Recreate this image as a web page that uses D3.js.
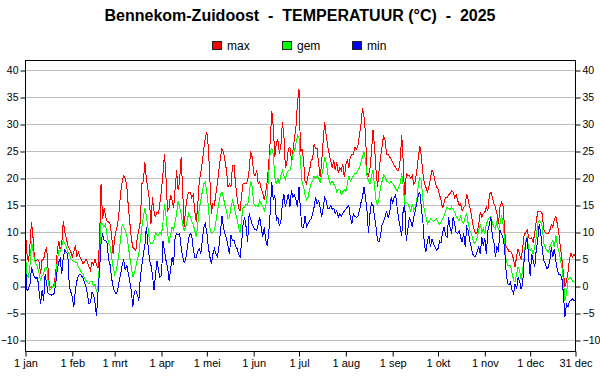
<!DOCTYPE html>
<html>
<head>
<meta charset="utf-8">
<script src="https://cdn.jsdelivr.net/npm/d3@7"></script>
<style>
  body { margin: 0; background: #fff; }
  svg { display: block; font-family: Arial, "Liberation Sans", sans-serif; }
</style>
</head>
<body>
<svg id="chart" width="600" height="390"></svg>
<script>
// daily values 2025, 1 jan .. 31 dec (365 days)
var maxTemp = [
  10, 6, 4.5, 8, 12, 9, 5, 4.8, 5, 4.5, 2.3, 5, 5, 6.5, 7.3, 3, -0.4, 0, 0, 0.5, 2.5, 6.5, 8.5, 6.7, 8, 12.2, 10, 9, 7.6, 7, 6.4, 5.5, 6.5, 7.6, 5.5, 6.4, 5.5, 5, 4.2, 4.5, 5.1, 4.5, 3.6,
  3, 4.5, 4, 5, 4, 3.5, 8.5, 19, 12.5, 14.5, 13, 12, 12, 11.5, 9.5, 6, 9, 10.5, 11.5, 14, 17.5, 19.5, 20.5, 20, 18.7, 15, 12, 9, 7.3, 7, 6.7, 9, 10.5, 12, 19, 19.5, 23, 20, 18, 16, 11.5, 16.5, 14, 12.8, 13.8, 13.5, 15.5, 18, 21, 24.5,
  20, 14, 14.5, 17, 16, 14.5, 18, 21.5, 17.8, 19.6, 24, 18, 11, 14.5, 16.5, 17.5, 17.5, 16.5, 17, 14, 12, 15, 19.6, 21, 23, 25.5, 27.5, 28.6, 25.8, 20.2, 13.5, 15.3, 15, 17.2, 19, 21.5, 24, 25.5, 25, 23.3, 21.5, 18.5,
  19, 18.5, 22.5, 22.5, 19, 16.5, 14.5, 14, 17, 19, 19, 19, 19.5, 21.5, 25, 24, 21, 20.5, 21.5, 19, 19.5, 18, 17.5, 16, 17.5, 19.5, 23, 27, 32.5, 29.5, 24, 26.5, 27.3, 24.6, 26, 30.5, 28, 22, 23, 25.5, 25.8, 23.5, 25.2, 27.5, 29.5, 34, 36.5,
  25, 25.5, 23.5, 19.5, 19, 20.5, 21.5, 23.3, 23.6, 26.4, 25.5, 25.5, 22.7, 20.2, 23, 27, 30.5, 28, 26, 24.5, 23.3, 22, 23.5, 21.5, 23, 21, 22, 21.5, 22.7, 20.2, 22.5, 23.5, 22, 24, 24.5, 24.5, 25.8, 25.5,
  26, 28, 30, 33, 31.5, 28.5, 21, 20.5, 22, 25, 29, 26,
  21.5, 18.5, 21.5, 24, 26, 28, 27, 24.5, 24.5, 24, 23.5, 23, 22.5, 22, 21.5, 21.5, 23.5, 28, 23, 16, 21, 20.5, 20.5, 20, 20.5, 19, 19.5, 21.5, 24, 26, 24, 21, 19, 18.4, 17.5, 18.5, 20, 21.5, 21, 19.5, 18.5, 18, 17,
  16, 14.5, 15.5, 16.5, 16.5, 17, 17.2, 17.8, 17.5, 16.5, 17, 16, 15, 15.3, 14, 14.7, 15, 17.2, 16, 14.7, 13.5, 11.6, 10.5, 9.8, 10, 11.6, 13.8, 12.8, 13.5, 13.8, 14.7, 14, 17, 17.5, 16.5, 15.3, 14.7, 13.5, 11.6, 14.7, 15.6, 15, 11, 7.5, 7, 6.5,
  6.5, 6, 5, 3.6, 5.5, 7, 6, 5, 7, 9.5, 10, 10.5, 9, 8.8, 9, 8.2, 9.8, 12, 13.8, 13.8, 13.8, 13.5, 10.5, 10, 9.8, 9.8, 10.4, 11.5, 11, 12.5, 13, 11.5, 9.8, 7.3, 5, 2.5, 0, 1, 2.5, 5, 6.2, 5.5, 6, 5.5
];
var gemTemp = [
  6, 2, 1.7, 4, 8.5, 6.5, 4.8, 4.2, 3.6, 2.5, 1.1, 2, 2.3, 3.6, 3.6, 1, -0.7, -0.4, 0, 0, 1.5, 4.5, 6.7, 6.5, 7.5, 8.5, 8, 7.3, 6.5, 6, 5.2, 4.8, 4.6, 4.5, 4.4, 3.6, 3.2, 2.6, 2.3, 1.6, 1.1, 0.8, 0.5,
  1, 1, 0, 0.5, -1, 0, 4.5, 12, 11.5, 11, 11.5, 9.5, 8, 7.5, 5.5, 3.5, 2.3, 3, 4.5, 6.5, 9, 11.5, 11, 10.4, 9.5, 7.5, 5.5, 3.6, 1.7, 2.5, 3.6, 5, 6, 8.5, 11, 13, 14.5, 13, 11, 8.5, 8, 8, 8.5, 10, 9.5, 9.5, 10, 9.5, 12, 15.3,
  13, 10, 8, 9.5, 11, 10.5, 12, 13.5, 15.9, 14.7, 13.5, 11.6, 10.4, 11, 12.3, 13.5, 13, 12, 11.5, 10.4, 9.1, 11.5, 14.5, 15.9, 17.5, 19, 19.3, 17.5, 15, 11, 9.8, 10, 10.4, 12, 14, 15.5, 17, 17.5, 16.5, 15, 14, 12.5,
  12.8, 14.7, 15.9, 15, 13.5, 12.5, 11, 10, 12.5, 14.7, 14.7, 15.3, 15, 17, 19.5, 18.5, 15.5, 14.8, 15, 14.8, 15.9, 15.3, 14.8, 14, 15, 17, 21, 25, 25.5, 24.6, 20.2, 19, 20, 19, 20.5, 21.5, 20.5, 19.8, 21, 21.5, 21.5, 22.7, 24.5, 25, 26.5, 28, 27.5,
  23, 19.5, 18.5, 17, 16, 16.5, 18, 19, 19.5, 20.5, 20, 20.5, 20, 19.3, 20.5, 22, 24, 23, 21, 19.5, 19, 19.5, 19, 18.5, 17.5, 18, 18, 17, 17.5, 18, 17.5, 19, 20.5, 19.5, 20, 20.5, 21, 21, 21.5, 22, 23, 24, 25, 23.5, 20.5, 19.5, 19, 20.5, 21.5, 18.5,
  16, 15, 16.5, 18.5, 19.5, 20.6, 20.3, 19.5, 19.3, 19, 19.5, 19, 18.7, 18, 17.7, 18.5, 19, 21, 18.5, 15.3, 15.6, 15.3, 14.7, 14, 15.3, 14, 14.7, 16, 19, 20.2, 19.5, 16, 14, 13, 11.6, 12, 12.5, 12.3, 12, 12.3, 12.5, 12, 11.5,
  12, 12.5, 13, 14, 14.7, 14.5, 14.2, 14.7, 14.3, 13.8, 13, 12.6, 12.2, 13, 12, 11.6, 12.8, 13.5, 11.6, 10.4, 9.8, 8.8, 8, 8.2, 9.1, 10.4, 11.6, 10, 10.8, 9.8, 11.6, 12.2, 12.8, 13, 11.8, 11, 10.7, 12.2, 10.4, 11.6, 13.2, 11.6, 9, 5, 4, 3.8,
  3.8, 2.5, 1.2, 0.8, 2.3, 3.6, 3, 1.2, 3, 5.5, 8.5, 9.2, 7, 6.7, 7, 6, 7.3, 9, 11.6, 12.2, 12, 11, 8, 7.3, 6.7, 6.4, 7.3, 8, 8.5, 7.3, 9.5, 7.5, 6.5, 5, 3.6, 1.2, -2.6, -1.5, 1.2, 1.7, 1.5, 1, 0.8, 0.5
];
var minTemp = [
  4, -0.7, -0.5, 0.5, 3.6, 2.5, 1.7, 1.5, 1.7, -1, -3.2, -0.7, -2.6, 2.3, 0.5, -1.3, -1.5, -1.6, -1.5, -1.3, 0.5, 3, 4.5, 5.1, 2.3, 5.5, 6.7, 6.3, 6, 0, -1, -2, -3.8, -0.7, 1, 2, 2.3, 2, 1.7, 0.8, 0, -1.5, -3.2,
  -3, -1, -1.5, -3, -5.5, -1, 3, 8, 9.8, 8.5, 8.5, 8, 5, 4, 1.5, 0, -1, -1.3, -0.7, 1, 2.3, 4, 5, 3, 4, 2.5, 1, -0.7, -3.8, -1, -0.7, -1.5, -2.6, 1.7, 4, 6, 7.6, 11, 8, 5, 4, 2.3, -0.7, 2, 4.8, 3, 1.7, 2, 8.5, 6.5,
  4.8, 3.6, 1.1, 3, 5.4, 4, 9, 9.8, 9.5, 9.8, 7.3, 5.5, 4.5, 5, 7, 9, 9.8, 9.5, 7, 5.4, 5.4, 6.5, 7, 6, 8.5, 11, 11.6, 10, 7.3, 5.5, 4.2, 6, 7, 6, 5.5, 7.3, 10, 13.1, 11, 9.8, 9, 7.5,
  6, 9.5, 8.5, 8.5, 7.5, 7, 6, 5.4, 8, 11.5, 12.8, 11, 8.2, 13.5, 12.5, 11.5, 11, 10.5, 10.4, 11.5, 12.8, 11, 9.1, 11, 8.5, 7.6, 10, 14, 19.3, 16, 17, 12.2, 12.8, 11.3, 12, 15.3, 17.2, 14.7, 16, 17.2, 14.7, 17.8, 16.5, 17, 16, 14.7, 18.5,
  14, 11, 11, 13, 11, 11.6, 12.2, 12.5, 13.5, 14.7, 16.5, 15.3, 15.9, 14.7, 12.8, 14.5, 16.5, 16, 14.5, 14.5, 15, 14.3, 14.5, 13.5, 14, 12.8, 13.5, 13, 13.5, 14, 14.3, 14.7, 15, 12.8, 11.6, 13.5, 13, 12.8, 13, 14, 15.5, 16.5, 18.4, 16.5, 14, 10, 13.5, 15.5, 15, 13,
  11, 8.5, 8.3, 9.5, 11.5, 12, 13, 14, 12.8, 13.5, 16.5, 15.5, 16.5, 17, 14.5, 12.5, 11, 9.4, 14.5, 15, 8.5, 10.5, 12.8, 12, 11, 13, 14, 15.5, 17, 17.5, 14.5, 12, 7.6, 6.4, 8.5, 9.4, 7.3, 8.8, 8, 7.3, 6.7, 7, 8.4,
  8, 10, 11, 9.5, 9.1, 12.8, 11, 9.8, 12.8, 11.6, 10, 9.8, 10.4, 9.1, 8.2, 9.8, 7.3, 11, 10.4, 8.5, 7.3, 6, 5.5, 5.7, 6.5, 7.3, 6, 9.1, 7.5, 9, 6, 10.4, 11.5, 12.8, 9.1, 8.2, 5.4, 7.3, 6.7, 10.4, 9.8, 9.1, 7.3, 3, 0.5, 0.3,
  0.8, -0.7, -1.3, 0.5, -0.5, 1.7, 1, -0.5, 0.5, 4.8, 8, 9, 5.4, 2, 6, 4.8, 3.6, 6.7, 8.5, 11.6, 9.8, 7, 4.8, 4.2, 3.3, 3.6, 4.8, 7.3, 5.5, 7, 4.8, 3, 2.3, 2.3, 1.5, -1.3, -5.7, -3.2, -3.8, -2.8, -2.6, -2.3, -2.6, -2.5
];

var seriesNames = ['max', 'gem', 'min'];
var seriesColors = ['#ff0000', '#00ff00', '#0000ff'];
var yTicks = [-10, -5, 0, 5, 10, 15, 20, 25, 30, 35, 40];
var xTickLabels = ['1 jan', '1 feb', '1 mrt', '1 apr', '1 mei', '1 jun', '1 jul', '1 aug', '1 sep', '1 okt', '1 nov', '1 dec', '31 dec'];
var titleText = 'Bennekom-Zuidoost  -  TEMPERATUUR (\u00B0C)  -  2025';

var svg = d3.select('#chart');

// plot frame
var frame = { left: 25.5, right: 575.5, top: 60.5, bottom: 351.5 };

var start = new Date(Date.UTC(2025, 0, 1));
var end = new Date(Date.UTC(2025, 11, 31));
function dayDate(i) { return d3.utcDay.offset(start, i); }

var xScale = d3.scaleUtc().domain([start, end]).range([frame.left, frame.right]);
var yScale = d3.scaleLinear().domain([-10, 40]).range([340.5, 70.5]);

// tick dates: first of every month and 31 dec
var xTickDates = d3.utcMonth.range(start, end).concat([end]);

// title
svg.append('text')
  .attr('x', 300)
  .attr('y', 21)
  .attr('text-anchor', 'middle')
  .style('font-size', '16px')
  .style('font-weight', 'bold')
  .style('white-space', 'pre')
  .text(titleText);

// legend
var legendX = [212, 282, 352];
var legend = svg.append('g').selectAll('g')
  .data(seriesNames)
  .enter()
  .append('g')
  .attr('transform', function (d, i) { return 'translate(' + legendX[i] + ',41)'; });
legend.append('rect')
  .attr('x', 0.5).attr('y', 0.5)
  .attr('width', 9).attr('height', 8)
  .attr('fill', function (d, i) { return seriesColors[i]; })
  .attr('stroke', '#222')
  .attr('stroke-width', 1);
legend.append('text')
  .attr('x', 15)
  .attr('y', 9)
  .style('font-size', '12px')
  .text(function (d) { return d; });

// horizontal gridlines
svg.append('g').selectAll('line')
  .data(yTicks)
  .enter()
  .append('line')
  .attr('x1', frame.left).attr('x2', frame.right)
  .attr('y1', function (d) { return yScale(d); })
  .attr('y2', function (d) { return yScale(d); })
  .attr('stroke', '#c0c0c0')
  .attr('stroke-width', 1);

// left + right y axis
var yAxisL = svg.append('g')
  .attr('transform', 'translate(' + frame.left + ',0)')
  .call(d3.axisLeft(yScale).tickValues(yTicks).tickSize(5).tickPadding(2));
var yAxisR = svg.append('g')
  .attr('transform', 'translate(' + frame.right + ',0)')
  .call(d3.axisRight(yScale).tickValues(yTicks).tickSize(5).tickPadding(2));

// bottom axis
var xAxis = svg.append('g')
  .attr('transform', 'translate(0,' + frame.bottom + ')')
  .call(d3.axisBottom(xScale).tickValues(xTickDates).tickSize(5).tickPadding(3)
    .tickFormat(function (d, i) { return xTickLabels[i]; }));

[yAxisL, yAxisR, xAxis].forEach(function (ax) {
  ax.select('.domain').remove();
  ax.selectAll('line').attr('stroke', '#000');
  ax.selectAll('text').attr('fill', '#000').style('font-size', '11px').style('font-family', 'Arial, "Liberation Sans", sans-serif');
});
// y labels a bit smaller so the right "-10" stays inside the picture
yAxisL.selectAll('text').style('font-size', '10.5px');
yAxisR.selectAll('text').style('font-size', '10.5px');

// series lines, clipped to frame
svg.append('clipPath').attr('id', 'plotclip')
  .append('rect')
  .attr('x', frame.left).attr('y', frame.top)
  .attr('width', frame.right - frame.left).attr('height', frame.bottom - frame.top);

var line = d3.line()
  .x(function (d, i) { return xScale(dayDate(i)); })
  .y(function (d) { return yScale(d); });

var series = [maxTemp, gemTemp, minTemp];
svg.append('g').attr('clip-path', 'url(#plotclip)')
  .selectAll('path')
  .data(series)
  .enter()
  .append('path')
  .attr('d', function (d) { return line(d); })
  .attr('fill', 'none')
  .attr('stroke', function (d, i) { return seriesColors[i]; })
  .attr('stroke-width', 1)
  .style('shape-rendering', 'crispEdges');

// frame on top
svg.append('rect')
  .attr('x', frame.left).attr('y', frame.top)
  .attr('width', frame.right - frame.left).attr('height', frame.bottom - frame.top)
  .attr('fill', 'none')
  .attr('stroke', '#000')
  .attr('stroke-width', 1);
</script>
</body>
</html>
